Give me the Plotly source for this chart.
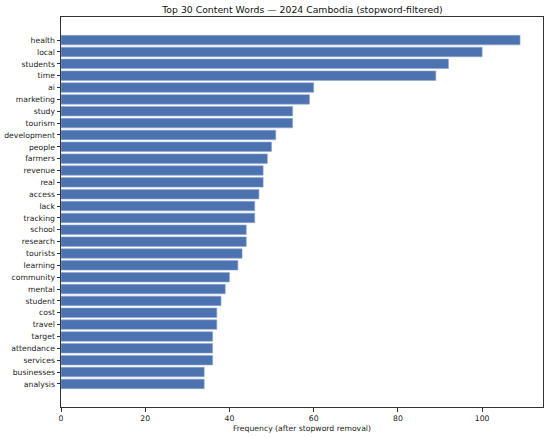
import plotly.graph_objects as go

words = ["health", "local", "students", "time", "ai", "marketing", "study", "tourism",
         "development", "people", "farmers", "revenue", "real", "access", "lack",
         "tracking", "school", "research", "tourists", "learning", "community",
         "mental", "student", "cost", "travel", "target", "attendance", "services",
         "businesses", "analysis"]
counts = [109, 100, 92, 89, 60, 59, 55, 55, 51, 50, 49, 48, 48, 47, 46,
          46, 44, 44, 43, 42, 40, 39, 38, 37, 37, 36, 36, 36, 34, 34]
x_ticks = [0, 20, 40, 60, 80, 100]

fig = go.Figure(go.Bar(
    x=counts, y=words, orientation="h",
    marker=dict(color="#4C72B0", line=dict(color="#8FA8D0", width=0.6)),
))
fig.update_layout(
    width=550, height=438,
    margin=dict(l=61, r=7, t=17, b=31),
    paper_bgcolor="white", plot_bgcolor="white",
    font=dict(family="DejaVu Sans", size=7.7, color="#222"),
    title=dict(text="Top 30 Content Words — 2024 Cambodia (stopword-filtered)",
               x=0.55, xanchor="center", y=1 - 9.5 / 438, yanchor="middle",
               font=dict(size=9.3, color="#111")),
    bargap=0.2, showlegend=False,
)
fig.update_xaxes(
    range=[0, 114.45], tickvals=x_ticks, showgrid=False, zeroline=False,
    showline=True, linecolor="#333", linewidth=1, mirror=True,
    ticks="outside", ticklen=3.5, tickcolor="#333", automargin=False,
    title=dict(text="Frequency (after stopword removal)", standoff=3, font=dict(size=7.7)),
)
fig.update_yaxes(
    type="category", categoryorder="array", categoryarray=words,
    range=[30.95, -1.95], showgrid=False, zeroline=False,
    showline=True, linecolor="#333", linewidth=1, mirror=True,
    ticks="outside", ticklen=3.5, tickcolor="#333", automargin=False,
)
# drop the default page margin so the figure sits at the window's corner
fig.write_html("out.html", config={"displayModeBar": False},
               post_script="document.body.style.margin='0';")
